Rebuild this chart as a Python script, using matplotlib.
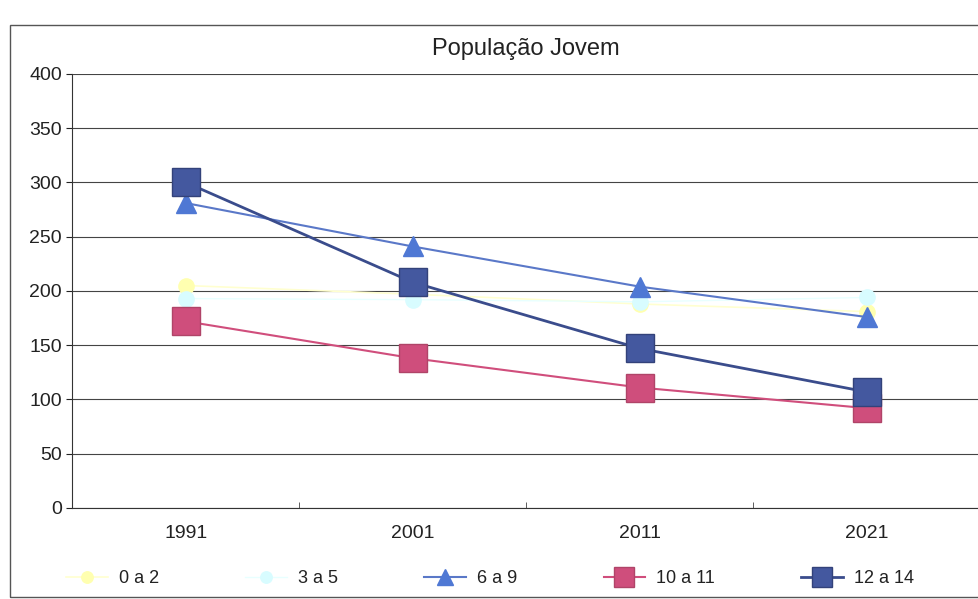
import matplotlib
matplotlib.use("Agg")
import matplotlib.pyplot as plt
from matplotlib.patches import Rectangle

plt.rcParams['font.family'] = ['Liberation Sans', 'DejaVu Sans']

years = ["1991", "2001", "2011", "2021"]
s_0a2 = [205, 197, 188, 181]
s_3a5 = [193, 192, 190, 194]
s_6a9 = [281, 241, 204, 176]
s_10a11 = [172, 138, 111, 92]
s_12a14 = [300, 208, 147, 107]
yticks = [0, 50, 100, 150, 200, 250, 300, 350, 400]

fig = plt.figure(figsize=(9.79, 5.99), dpi=100)
fig.patches.append(Rectangle((10/979, 2/599), 1.0, 572/599, transform=fig.transFigure,
                             fill=False, edgecolor='#555555', linewidth=1.0))
ax = fig.add_axes([0.074, 0.152, 0.927, 0.7245])
x = list(range(len(years)))

ax.plot(x, s_0a2, color='#FFFFD0', lw=1.2, marker='o', ms=11, mfc='#FFFFB0', mec='#FFFFB0', label='0 a 2', zorder=3)
ax.plot(x, s_3a5, color='#E8FFFF', lw=1.0, marker='o', ms=11, mfc='#D8FCFF', mec='#D8FCFF', label='3 a 5', zorder=3)
ax.plot(x, s_6a9, color='#5A78C8', lw=1.5, marker='^', ms=15, mfc='#4F78D4', mec='#4F78D4', label='6 a 9', zorder=4)
ax.plot(x, s_10a11, color='#D04E7C', lw=1.5, marker='s', ms=20, mfc='#CF4E7C', mec='#B04468', label='10 a 11', zorder=4)
ax.plot(x, s_12a14, color='#3A4C8C', lw=2.0, marker='s', ms=20, mfc='#44589F', mec='#33427A', label='12 a 14', zorder=5)

ax.set_xlim(-0.5, 3.5)
ax.set_ylim(0, 400)
ax.set_yticks(yticks)
ax.set_xticks(x)
ax.set_xticklabels(years)
ax.set_xticks([0.5, 1.5, 2.5], minor=True)
ax.tick_params(axis='both', labelsize=14, colors='#222222', length=4, direction='out')
ax.tick_params(axis='x', which='major', length=0, pad=12)
ax.tick_params(axis='x', which='minor', length=4, direction='in', color='#444444')
ax.grid(axis='y', color='#444444', lw=0.8)
ax.set_axisbelow(True)
for s in ['top', 'right']:
    ax.spines[s].set_visible(False)
ax.spines['left'].set_color('#333333')
ax.spines['bottom'].set_color('#333333')
ax.set_title('População Jovem', fontsize=17, pad=14, color='#222222')

fig.legend(loc='lower left', bbox_to_anchor=(0.051, -0.007), ncol=5, frameon=False,
           fontsize=13, markerscale=0.75, handlelength=2.3, handletextpad=0.6,
           columnspacing=4.8, labelcolor='#222222')

fig.savefig('out.png', dpi=100)
